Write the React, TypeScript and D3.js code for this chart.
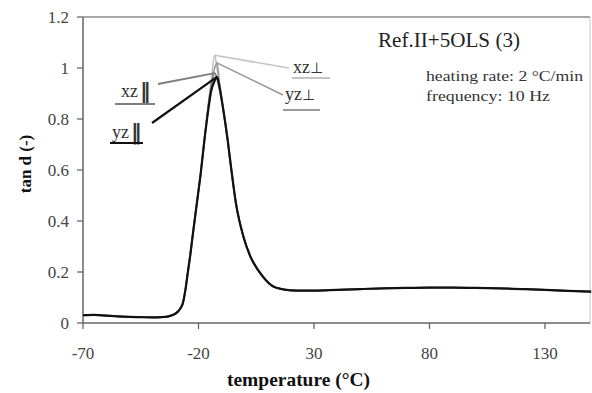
import React from "react";
import * as d3 from "d3";

const temps = [-70, -65, -60, -55, -50, -45, -40, -36, -33, -31, -29.5, -28, -26.8, -25.5, -24.6, -23.5, -22.7, -20.7, -19, -17.4, -16, -14.5, -13, -12, -11, -9.5, -7.4, -5.9, -3.8, -0.6, 2.5, 5.6, 9, 12, 16, 20, 25, 30, 40, 50, 60, 70, 80, 90, 100, 110, 120, 130, 140, 150];

const xzPerp = [0.031, 0.032, 0.029, 0.026, 0.024, 0.023, 0.022, 0.023, 0.026, 0.032, 0.04, 0.055, 0.077, 0.14, 0.2, 0.27, 0.33, 0.47, 0.59, 0.72, 0.84, 0.95, 1.05, 1.0, 0.94, 0.85, 0.72, 0.61, 0.47, 0.34, 0.26, 0.21, 0.17, 0.145, 0.133, 0.128, 0.127, 0.127, 0.13, 0.133, 0.136, 0.138, 0.139, 0.139, 0.138, 0.136, 0.133, 0.13, 0.126, 0.123];
const yzPerp = [0.031, 0.031, 0.029, 0.026, 0.024, 0.023, 0.022, 0.023, 0.026, 0.032, 0.04, 0.055, 0.077, 0.14, 0.2, 0.27, 0.33, 0.47, 0.59, 0.72, 0.83, 0.93, 1.0, 1.02, 0.95, 0.85, 0.72, 0.61, 0.47, 0.34, 0.26, 0.21, 0.17, 0.145, 0.133, 0.128, 0.127, 0.127, 0.13, 0.133, 0.136, 0.138, 0.139, 0.139, 0.138, 0.136, 0.133, 0.13, 0.126, 0.123];
const xzPar = [0.03, 0.032, 0.03, 0.026, 0.024, 0.023, 0.022, 0.023, 0.026, 0.032, 0.04, 0.055, 0.077, 0.14, 0.2, 0.27, 0.33, 0.47, 0.59, 0.72, 0.83, 0.93, 0.98, 0.96, 0.92, 0.85, 0.72, 0.61, 0.47, 0.34, 0.26, 0.21, 0.17, 0.145, 0.133, 0.128, 0.127, 0.127, 0.13, 0.133, 0.136, 0.138, 0.139, 0.139, 0.138, 0.136, 0.133, 0.13, 0.126, 0.123];
const yzPar = [0.031, 0.032, 0.029, 0.026, 0.024, 0.023, 0.022, 0.023, 0.026, 0.032, 0.04, 0.055, 0.077, 0.14, 0.2, 0.27, 0.33, 0.47, 0.59, 0.72, 0.82, 0.91, 0.95, 0.965, 0.93, 0.85, 0.72, 0.61, 0.47, 0.34, 0.26, 0.21, 0.17, 0.145, 0.133, 0.128, 0.127, 0.127, 0.13, 0.133, 0.136, 0.138, 0.139, 0.139, 0.138, 0.136, 0.133, 0.13, 0.126, 0.123];

const xTicks = [-70, -20, 30, 80, 130];
const yTicks = [0, 0.2, 0.4, 0.6, 0.8, 1, 1.2];

const seriesPlanes = ["xz", "yz", "xz", "yz"];
const seriesMarks = ["⊥", "⊥", "‖", "‖"];
const seriesData = [xzPerp, yzPerp, xzPar, yzPar];
const seriesColors = ["#c4c4c4", "#9a9a9a", "#7e7e7e", "#111111"];
const seriesWidths = [1.6, 1.6, 1.8, 2.2];

// label layout: [textX, baseline, underline x1, underline x2, underline y, leader x, leader y]
const labelLayout = [
  [293, 73, 292, 330, 78, 289, 68],
  [285, 100, 283, 320, 110, 283, 95],
  [121, 97, 115, 155, 104, 158, 84],
  [112, 138, 110, 143, 143, 152, 123],
];

const W = 592;
const H = 393;
const left = 83;
const right = 590;
const top = 17;
const bottom = 323;

export default function App() {
  const x = d3.scaleLinear().domain([-70, 149.5]).range([left, right]);
  const y = d3.scaleLinear().domain([0, 1.2]).range([bottom, top]);
  const line = d3
    .line<number>()
    .x((_, i) => x(temps[i]))
    .y((d) => y(d))
    .curve(d3.curveMonotoneX);
  const font = "'Liberation Serif', 'Times New Roman', serif";

  return (
    <svg
      width={W}
      height={H}
      style={{ position: "absolute", left: 0, top: 0, background: "#fff" }}
      fontFamily={font}
    >
      <rect x={0} y={0} width={W} height={H} fill="#fff" />
      {/* frame */}
      <line x1={left} x2={right} y1={top} y2={top} stroke="#8a8a8a" strokeWidth={1.3} />
      <line x1={right} x2={right} y1={top} y2={bottom} stroke="#c8c8c8" strokeWidth={1} />
      <line x1={left} x2={left} y1={top} y2={bottom} stroke="#666" strokeWidth={1.5} />
      <line x1={left} x2={right} y1={bottom} y2={bottom} stroke="#666" strokeWidth={1.5} />
      {yTicks.map((t) => (
        <g key={"y" + t}>
          <line x1={left - 6} x2={left} y1={y(t)} y2={y(t)} stroke="#666" strokeWidth={1.3} />
          <text x={left - 14} y={y(t)} dy="0.35em" textAnchor="end" fontSize={17} fill="#444">
            {t === 0 || t === 1 ? String(t) : t.toFixed(1)}
          </text>
        </g>
      ))}
      {xTicks.map((t) => (
        <g key={"x" + t}>
          <line x1={x(t)} x2={x(t)} y1={bottom} y2={bottom + 6} stroke="#666" strokeWidth={1.3} />
          <text x={x(t)} y={359} textAnchor="middle" fontSize={17} fill="#444">
            {t}
          </text>
        </g>
      ))}
      <text x={227} y={386} fontSize={19} fontWeight="bold" fill="#111" textLength={143} lengthAdjust="spacingAndGlyphs">
        temperature (°C)
      </text>
      <text
        transform={`translate(31,164) rotate(-90)`}
        textAnchor="middle"
        fontSize={17}
        fontWeight="bold"
        fill="#111"
      >
        tan d (-)
      </text>
      {/* series */}
      {seriesData.map((vals, i) => (
        <path
          key={"s" + i}
          d={line(vals) || ""}
          fill="none"
          stroke={seriesColors[i]}
          strokeWidth={seriesWidths[i]}
          strokeLinejoin="round"
        />
      ))}
      {/* callouts */}
      {seriesData.map((vals, i) => {
        const k = vals.indexOf(Math.max(...vals));
        const L = labelLayout[i];
        const par = seriesMarks[i] === "‖";
        return (
          <g key={"lab" + i}>
            <line
              x1={x(temps[k])}
              y1={y(vals[k])}
              x2={L[5]}
              y2={L[6]}
              stroke={seriesColors[i]}
              strokeWidth={seriesWidths[i]}
            />
            <text x={L[0]} y={L[1]} fontSize={18} fill="#333">
              {seriesPlanes[i]}
              {par ? (
                <tspan fontFamily="'DejaVu Sans'" fontSize={21} fontWeight="bold" dx={2} dy={1}>
                  {seriesMarks[i]}
                </tspan>
              ) : (
                <tspan fontFamily="'DejaVu Sans'" fontSize={15}>
                  {seriesMarks[i]}
                </tspan>
              )}
            </text>
            <line x1={L[2]} x2={L[3]} y1={L[4]} y2={L[4]} stroke={seriesColors[i]} strokeWidth={2} />
          </g>
        );
      })}
      <text x={378} y={47} fontSize={20} fill="#222" textLength={142} lengthAdjust="spacingAndGlyphs">
        Ref.II+5OLS (3)
      </text>
      <text x={426} y={81} fontSize={15} fill="#333" textLength={157} lengthAdjust="spacingAndGlyphs">
        heating rate: 2 °C/min
      </text>
      <text x={426} y={101} fontSize={15} fill="#333" textLength={124} lengthAdjust="spacingAndGlyphs">
        frequency: 10 Hz
      </text>
    </svg>
  );
}
